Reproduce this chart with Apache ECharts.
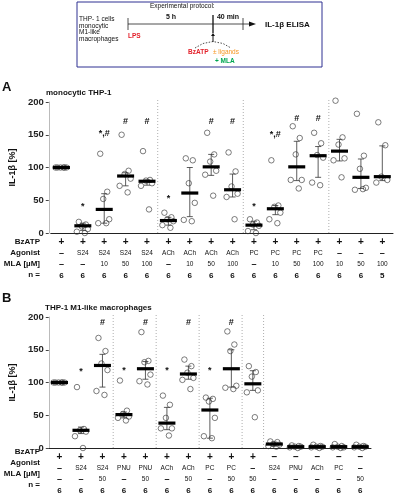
<!DOCTYPE html>
<html><head><meta charset="utf-8">
<script src="https://cdn.jsdelivr.net/npm/echarts/dist/echarts.min.js"></script>
<style>html,body{margin:0;padding:0;background:#fff}#c{width:395px;height:499px}</style>
</head><body><div id="c"></div>
<script>
// ---------- Panel A: monocytic THP-1 ----------
const bzatpA   = ['+','+','+','+','+','+','+','+','+','+','+','+','+','+','+','+'];
const agonistA = ['–','S24','S24','S24','S24','ACh','ACh','ACh','ACh','PC','PC','PC','PC','–','–','–'];
const mlaA     = ['–','–','10','50','100','–','10','50','100','–','10','50','100','10','50','100'];
const nA       = ['6','6','6','6','6','6','6','6','6','6','6','6','6','6','6','5'];
const pointsA = [
  [100,100,100,100,100,100],
  [17,13,10,6,2,0],
  [121,63,52,21,15,15],
  [150,95,90,83,72,62],
  [125,81,80,76,72,36],
  [31,24,21,18,12,8],
  [114,111,76,46,20,18],
  [153,120,109,95,89,57],
  [123,94,71,60,55,21],
  [21,16,13,11,3,0],
  [111,42,40,31,21,15],
  [163,145,120,81,81,68],
  [153,137,119,115,77,73],
  [202,146,135,114,111,85],
  [182,118,98,69,66,67],
  [169,134,86,81,77]
];
const medianA = [100,11,36,87,79,19,61,101,66,12,37,101,118,125,85,86];
const errLowA  = [null,4,15,72,73,12,25,88,55,5,28,80,85,110,68,80];
const errHighA = [null,15,60,92,81,24,100,120,90,18,42,140,132,143,113,133];
const annotTextA = ['','*','*,#','#','#','*','','#','#','*','*,#','#','#','','',''];
const annotYA    = [0,41,152,170,170,52,0,170,170,41,151,175,175,0,0,0];
const sepsA = [5,9,13];

// ---------- Panel B: THP-1 M1-like macrophages ----------
const bzatpB   = ['+','+','+','+','+','+','+','+','+','+','–','–','–','–','–'];
const agonistB = ['–','S24','S24','PNU','PNU','ACh','ACh','PC','PC','–','S24','PNU','ACh','PC','–'];
const mlaB     = ['–','–','50','–','50','–','50','–','50','50','–','–','–','–','50'];
const nB       = ['6','6','6','6','6','6','6','6','6','6','6','6','6','6','6'];
const pointsB = [
  [100,100,100,100,100,100],
  [93,29,27,25,18,0],
  [168,148,129,119,87,81],
  [103,57,52,48,46,42],
  [177,133,131,112,102,97],
  [80,66,46,30,30,19],
  [135,125,115,107,104,90],
  [77,75,71,46,18,15],
  [178,158,148,95,92,90],
  [125,116,109,88,85,47],
  [10,9,6,5,3,2],
  [4,3,2,2,1,0],
  [5,3,2,2,1,0],
  [6,3,2,1,1,0],
  [5,3,2,2,1,0]
];
const medianB = [100,27,126,51,121,38,113,58,121,98,6,2,2,2,2];
const errLowB  = [null,22,93,46,105,28,105,15,93,88,3,1,1,1,1];
const errHighB = [null,32,143,55,132,62,125,76,150,118,9,3,3,3,3];
const annotTextB = ['','*','#','*','#','*','#','*','#','','','','','',''];
const annotYB    = [0,117,192,118,192,118,192,118,192,0,0,0,0,0,0];
const sepsB = [3,5,7,9,10];

const FONT = 'Liberation Sans, Arial, sans-serif';
const jit = [-4,3,-1,5,-6,2];

function xAxisFor(gi, bz, ag, ml, n) {
  const f = t => t === '–' ? '{d|–}' : '{s|' + t + '}';
  return {
    type:'category', gridIndex:gi, data: bz.map((b,i)=>b+ag[i]+ml[i]+'_'+i),
    axisLine:{lineStyle:{color:'#222',width:1}},
    axisTick:{alignWithLabel:true,length:3,lineStyle:{color:'#222'}},
    splitLine:{show:false},
    axisLabel:{
      interval:0, margin:4, fontFamily:FONT,
      formatter:(v,i)=> '{p|'+bz[i]+'}\n'+f(ag[i])+'\n'+f(ml[i])+'\n{n|'+n[i]+'}',
      rich:{
        p:{fontSize:10,fontWeight:'bold',lineHeight:11,color:'#111',fontFamily:FONT},
        d:{fontSize:9,fontWeight:'bold',lineHeight:11,color:'#111',fontFamily:FONT},
        s:{fontSize:6.5,lineHeight:11,color:'#111',fontFamily:FONT},
        n:{fontSize:8,fontWeight:'bold',lineHeight:11,color:'#111',fontFamily:FONT}
      }
    }
  };
}
function yAxisFor(gi, off) {
  return {
    type:'value', gridIndex:gi, min:0, max:200, interval:50, offset:off,
    axisLine:{show:true,lineStyle:{color:'#bbb',width:1}},
    axisTick:{show:true,length:3,lineStyle:{color:'#444'}},
    splitLine:{show:false},
    axisLabel:{fontSize:9.5,fontWeight:'bold',color:'#222',margin:5,fontFamily:FONT},
    name:'IL-1β [%]', nameLocation:'middle', nameGap:26,
    nameTextStyle:{fontSize:9,fontWeight:'bold',color:'#111',fontFamily:FONT}
  };
}
function seriesFor(gi, points, med, lo, hi, annT, annY, seps) {
  const ax = {xAxisIndex:gi, yAxisIndex:gi};
  const out = [];
  out.push(Object.assign({
    type:'custom', silent:true, clip:false, z:1,
    data: seps.map(s=>[s,0]),
    renderItem:(p,api)=>{
      const s = api.value(0);
      const a = api.coord([s-1,0]), b = api.coord([s,0]), t = api.coord([s,200]);
      const xm = (a[0]+b[0])/2;
      return {type:'line', shape:{x1:xm,y1:t[1]-2,x2:xm,y2:a[1]},
        style:{stroke:'#999',lineWidth:0.8,lineDash:[1,2]}};
    }
  }, ax));
  out.push(Object.assign({
    type:'scatter', clip:false, z:2, symbol:'circle', symbolSize:5.5,
    itemStyle:{color:'rgba(255,255,255,0)',borderColor:'#333',borderWidth:0.8},
    data: points.flatMap((arr,i)=>arr.map((v,k)=>({value:[i,v],symbolOffset:[jit[k%6],0]})))
  }, ax));
  out.push(Object.assign({
    type:'custom', silent:true, clip:false, z:3,
    data: lo.map((l,i)=> l==null ? null : [i,l,hi[i]]).filter(d=>d),
    renderItem:(p,api)=>{
      const a = api.coord([api.value(0),api.value(1)]);
      const b = api.coord([api.value(0),api.value(2)]);
      const st = {stroke:'#333',lineWidth:0.8};
      return {type:'group',children:[
        {type:'line',shape:{x1:a[0],y1:a[1],x2:b[0],y2:b[1]},style:st},
        {type:'line',shape:{x1:a[0]-3,y1:a[1],x2:a[0]+3,y2:a[1]},style:st},
        {type:'line',shape:{x1:b[0]-3,y1:b[1],x2:b[0]+3,y2:b[1]},style:st}
      ]};
    }
  }, ax));
  out.push(Object.assign({
    type:'custom', silent:true, clip:false, z:4,
    data: med.map((m,i)=>[i,m]),
    renderItem:(p,api)=>{
      const c = api.coord([api.value(0),api.value(1)]);
      return {type:'rect',shape:{x:c[0]-8.5,y:c[1]-1.6,width:17,height:3.2},style:{fill:'#000'}};
    }
  }, ax));
  out.push(Object.assign({
    type:'custom', silent:true, clip:false, z:5,
    data: annT.map((t,i)=>[i,annY[i]]),
    renderItem:(p,api)=>{
      const t = annT[p.dataIndex];
      if (!t) return null;
      const c = api.coord([api.value(0),api.value(1)]);
      return {type:'text',style:{text:t,x:c[0],y:c[1],align:'center',verticalAlign:'middle',
        font:'bold 9px '+FONT,fill:'#111'}};
    }
  }, ax));
  return out;
}

function rowLabels(y0) {
  const L = ['BzATP','Agonist','MLA [µM]','n ='];
  return L.map((t,k)=>({type:'text',right:395-40,top:y0+k*11-5,
    style:{text:t,font:'bold 8px '+FONT,fill:'#111',align:'right'}}));
}
function txt(x,y,t,font,fill,align){
  return {type:'text',x:x,y:y,style:{text:t,font:font,fill:fill||'#111',align:align||'left',verticalAlign:'middle'}};
}

const graphics = [
  {type:'rect',shape:{x:77,y:2,width:245,height:65},style:{fill:'none',stroke:'#2e3192',lineWidth:1}},
  txt(150,6,'Experimental protocol:','6.5px '+FONT),
  txt(79,19,'THP- 1 cells','6.5px '+FONT),
  txt(79,26,'monocytic','6.5px '+FONT),
  txt(79,32.7,'M1-like','6.5px '+FONT),
  txt(79,39.3,'macrophages','6.5px '+FONT),
  {type:'line',shape:{x1:128,y1:24,x2:250,y2:24},style:{stroke:'#222',lineWidth:0.8}},
  {type:'polygon',shape:{points:[[249,21.5],[256,24],[249,26.5]]},style:{fill:'#111'}},
  {type:'line',shape:{x1:128,y1:18,x2:128,y2:30},style:{stroke:'#222',lineWidth:0.8}},
  {type:'line',shape:{x1:213,y1:15,x2:213,y2:33},style:{stroke:'#111',lineWidth:1.3}},
  {type:'line',shape:{x1:243,y1:18,x2:243,y2:30},style:{stroke:'#222',lineWidth:0.8}},
  txt(171,17,'5 h','bold 7px '+FONT,'#111','center'),
  txt(228,17,'40 min','bold 7px '+FONT,'#111','center'),
  txt(265,24.5,'IL-1β ELISA','bold 8px '+FONT),
  txt(128,36.5,'LPS','bold 6.5px '+FONT,'#e3202a'),
  {type:'line',shape:{x1:213,y1:42,x2:213,y2:35},style:{stroke:'#111',lineWidth:1}},
  {type:'polygon',shape:{points:[[211,36],[213,33],[215,36]]},style:{fill:'#111'}},
  {type:'polyline',shape:{points:[[195,48],[203,43.5],[213,41.5],[223,43.5],[231,48]]},style:{stroke:'#222',lineWidth:0.8,lineDash:[1.5,1.5],fill:'none'}},
  txt(188,52,'BzATP','bold 6.5px '+FONT,'#e3202a'),
  txt(213,52,'± ligands','6.5px '+FONT,'#f7941d'),
  txt(215,61,'+ MLA','bold 6.5px '+FONT,'#00a651'),
  txt(2,87,'A','bold 13px '+FONT),
  txt(46,93,'monocytic THP-1','bold 8px '+FONT),
  txt(2,298,'B','bold 13px '+FONT),
  txt(45,308,'THP-1 M1-like macrophages','bold 8px '+FONT)
].concat(rowLabels(243)).concat(rowLabels(453));

const chart = echarts.init(document.getElementById('c'), null, {renderer:'canvas'});
chart.setOption({
  animation:false,
  textStyle:{fontFamily:FONT},
  grid:[
    {left:44,right:2,top:102,height:131},
    {left:41,right:24,top:317,height:131}
  ],
  xAxis:[xAxisFor(0,bzatpA,agonistA,mlaA,nA), xAxisFor(1,bzatpB,agonistB,mlaB,nB)],
  yAxis:[yAxisFor(0,2), yAxisFor(1,0)],
  series: seriesFor(0,pointsA,medianA,errLowA,errHighA,annotTextA,annotYA,sepsA)
    .concat(seriesFor(1,pointsB,medianB,errLowB,errHighB,annotTextB,annotYB,sepsB)),
  graphic: graphics
});
</script></body></html>
